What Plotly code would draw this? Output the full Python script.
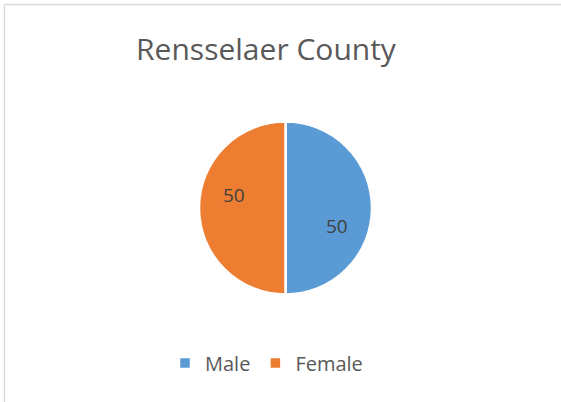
import plotly.graph_objects as go

labels = ["Male", "Female"]
values = [50, 50]
colors = ["#5B9BD5", "#ED7D31"]
title_text = "Rensselaer County"

W, H = 561, 402

# data label positions (pixel positions), per slice
label_px = [(337, 226), (234, 195)]

fig = go.Figure()
fig.add_trace(go.Pie(
    labels=labels,
    values=values,
    marker=dict(colors=colors, line=dict(color="white", width=2.5)),
    sort=False,
    direction="clockwise",
    rotation=0,
    textinfo="none",
    domain=dict(x=[199 / W, 372 / W], y=[1 - 295 / H, 1 - 121 / H]),
    hoverinfo="label+value",
))

annotations = []
for v, (px, py) in zip(values, label_px):
    annotations.append(dict(
        text=str(v), x=px / W, y=1 - py / H, xref="paper", yref="paper",
        showarrow=False, xanchor="center", yanchor="middle",
        font=dict(family="Open Sans", size=19, color="#404040"),
    ))

fig.update_layout(
    width=W, height=H,
    margin=dict(l=0, r=0, t=0, b=0),
    paper_bgcolor="white",
    plot_bgcolor="white",
    font=dict(family="Open Sans", color="#595959"),
    title=dict(
        text=title_text,
        x=266 / W, xanchor="center",
        y=1 - 49 / H, yanchor="middle",
        font=dict(family="Open Sans", size=30, color="#595959"),
    ),
    showlegend=True,
    legend=dict(
        orientation="h",
        x=266.5 / W, xanchor="center",
        y=1 - 363 / H, yanchor="middle",
        font=dict(family="Open Sans", size=20, color="#595959"),
        itemwidth=30,
    ),
    annotations=annotations,
    shapes=[
        dict(type="line", xref="paper", yref="paper",
             x0=4.5 / W, x1=1, y0=1 - 4.5 / H, y1=1 - 4.5 / H,
             line=dict(color="#D9D9D9", width=1.5)),
        dict(type="line", xref="paper", yref="paper",
             x0=4.5 / W, x1=4.5 / W, y0=0, y1=1 - 4.5 / H,
             line=dict(color="#D9D9D9", width=1.5)),
    ],
)

fig.write_html(
    "out.html",
    config={"displayModeBar": False},
    post_script="document.body.style.margin='0';document.body.style.padding='0';",
)
